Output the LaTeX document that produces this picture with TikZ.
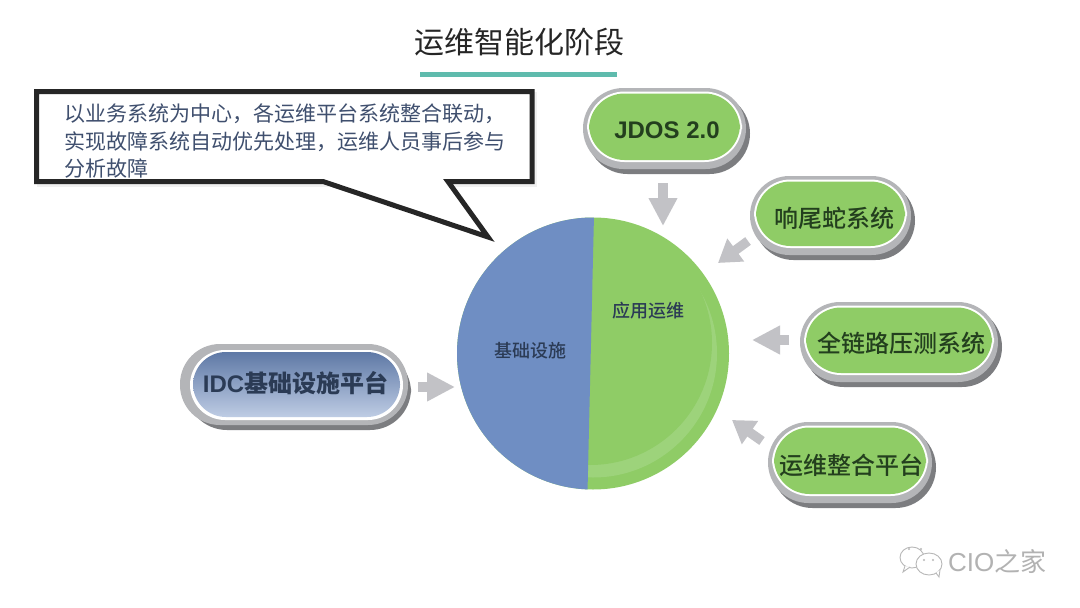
\documentclass[tikz,border=0pt]{standalone}
\usepackage{fontspec}
\setmainfont{Liberation Sans}
\newfontfamily\cjk{Noto Sans CJK SC}
\newfontfamily\cjkb{Noto Sans CJK SC Medium}
\usetikzlibrary{arrows.meta,calc}
\definecolor{pgreen}{HTML}{8FCC66}
\definecolor{plight}{HTML}{9DD37B}
\definecolor{pblue}{HTML}{6F8EC3}
\definecolor{rimg}{HTML}{B4B5B8}
\definecolor{rimd}{HTML}{7C7D80}
\definecolor{arrowg}{HTML}{C2C2C6}
\definecolor{txtg}{HTML}{233F1E}
\definecolor{txtb}{HTML}{2B3B55}
\definecolor{calltx}{HTML}{3F4F6E}
\definecolor{barc}{HTML}{5FBBAD}
\tikzset{
  barrow/.style={draw=arrowg,line width=9.5pt,-{Triangle[length=28pt,width=27pt,color=arrowg]}},
  dgarrow/.style={barrow,-{Triangle[length=22pt,width=27pt,color=arrowg]}},
  pilltext/.style={font=\fontsize{24}{26}\selectfont\cjkb,text=txtg,inner sep=0pt},
  pielabel/.style={font=\fontsize{18}{20}\selectfont\cjkb,text=txtb,inner sep=0pt},
  wmline/.style={draw=black!28,line width=0.9pt,fill=white},
}
% x0,y0,x1,y1 = outer edge of the grey ring
\newcommand{\pill}[5]{%
  \pgfmathsetmacro{\rr}{(#4-#2)/2}
  \fill[rimd,rounded corners=\rr pt] (#1+4,#2+5) rectangle (#3+4,#4+5);
  \fill[rimg,rounded corners=\rr pt] (#1,#2) rectangle (#3,#4);
  \fill[white,rounded corners=\rr pt-3pt] (#1+4,#2+3.5) rectangle (#3-4,#4-7);
  \fill[#5,rounded corners=\rr pt-5pt] (#1+6,#2+5.5) rectangle (#3-6,#4-9);
}
\begin{document}
\begin{tikzpicture}[x=1pt,y=-1pt]
\useasboundingbox (0,0) rectangle (1080,608);
\fill[white] (0,0) rectangle (1080,608);
% title
\node[font=\fontsize{30}{34}\selectfont\cjk,text=black!85,inner sep=0pt] (title) at (519.5,42) {运维智能化阶段};
\fill[barc] (420,72) rectangle (617,76.5);
% pie
\coordinate (pc) at (593,353.5);
\fill[pgreen] (pc) circle (136pt);
\begin{scope}
  \clip (pc) circle (136pt);
  \fill[plight] (pc) circle (124pt);
  \fill[pgreen] (590,343) circle (122pt);
  \fill[pblue] (594,215) -- (587.5,492) -- (440,492) -- (440,215) -- cycle;
\end{scope}
\node[pielabel] (infra) at (530,351) {基础设施};
\node[pielabel] (apps) at (648.5,311) {应用运维};
% callout
\fill[black!6] (37,92) rectangle (537,187);
\draw[line width=5pt,draw=black!85,fill=white,line join=miter,miter limit=20] (36.5,91.5) -- (532,91.5) -- (532,181.5) -- (448,181.5) -- (488,237) -- (323,181.5) -- (36.5,181.5) -- cycle;
\node[anchor=north west,align=left,inner sep=0pt,font=\fontsize{21}{27.5}\selectfont\cjk,text=calltx] (note) at (64,103.5) {以业务系统为中心，各运维平台系统整合联动，\\实现故障系统自动优先处理，运维人员事后参与\\分析故障};
% pills
\pill{583}{88}{746}{169}{pgreen}
\node[font=\fontsize{24}{26}\selectfont\bfseries,text=txtg,inner sep=0pt] (jdos) at (667,130) {JDOS 2.0};
\pill{750}{176}{911}{255}{pgreen}
\node[pilltext] (snake) at (834,218) {响尾蛇系统};
\pill{800}{302}{998}{382}{pgreen}
\node[pilltext] (link) at (901,343.5) {全链路压测系统};
\pill{768}{422}{932}{503}{pgreen}
\node[pilltext] (ops) at (851,465) {运维整合平台};
% idc pill
\fill[rimd,rounded corners=41pt] (186,351) rectangle (411,430);
\fill[rimg,rounded corners=40pt] (180,344) rectangle (408,425);
\fill[white,rounded corners=35pt] (190,350) rectangle (403,420);
\shade[top color=pblue!85!black,bottom color=pblue!45!white,rounded corners=33pt] (193,352) rectangle (400,417);
\node[font=\fontsize{24}{26}\selectfont\bfseries,text=txtb,inner sep=0pt] (idc) at (295.5,383.5) {IDC{\cjkb 基础设施平台}};
% arrows
\coordinate (a1) at (663,183); \coordinate (b1) at (663,226);
\coordinate (a2) at (748,241); \coordinate (b2) at (718,263);
\coordinate (a3) at (789,340); \coordinate (b3) at (752,340);
\coordinate (a4) at (762,441); \coordinate (b4) at (732,420);
\coordinate (a5) at (418,387); \coordinate (b5) at (455,387);
\draw[barrow] (a1) -- (b1);
\draw[dgarrow] (a2) -- (b2);
\draw[barrow] (a3) -- (b3);
\draw[dgarrow] (a4) -- (b4);
\draw[barrow] (a5) -- (b5);
% watermark
\draw[wmline] (912,557.5) ellipse (12pt and 10.5pt);
\draw[wmline] (905,566) -- (903,572) -- (910,567);
\fill[black!28] (909,549) circle (1.2pt) (921,549) circle (1.2pt);
\draw[wmline] (929,564) ellipse (13pt and 11pt);
\draw[wmline] (936,573) -- (939,577) -- (940,570);
\fill[black!28] (924,560) circle (1.2pt) (933,560) circle (1.2pt);
\node[anchor=west,font=\fontsize{26}{28}\selectfont,text=black!30,inner sep=0pt] (wm) at (948,561) {CIO{\cjk 之家}};
\end{tikzpicture}
\end{document}
